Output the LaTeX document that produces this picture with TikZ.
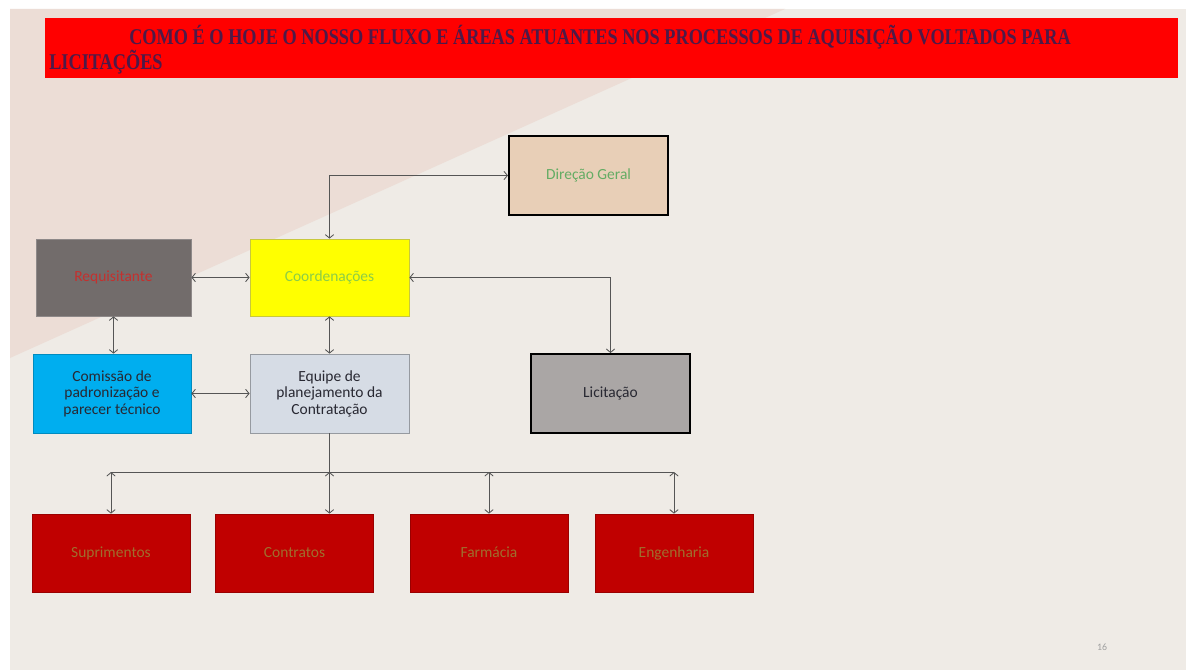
\documentclass[tikz,border=0pt]{standalone}
\usepackage{fontspec}
\setmainfont{Carlito}
\newfontfamily\titlefont[FakeStretch=0.812]{Liberation Serif}
\usetikzlibrary{arrows.meta}
\definecolor{bgbeige}{RGB}{239, 235, 230}
\definecolor{bgpink}{RGB}{236, 221, 214}
\definecolor{barred}{RGB}{255, 0, 0}
\definecolor{titlepurple}{RGB}{78, 26, 72}
\definecolor{dirtan}{RGB}{232, 207, 183}
\definecolor{dirgreen}{RGB}{100, 172, 100}
\definecolor{reqgray}{RGB}{114, 108, 107}
\definecolor{reqred}{RGB}{196, 48, 46}
\definecolor{coordyellow}{RGB}{255, 255, 0}
\definecolor{coordline}{RGB}{200, 200, 60}
\definecolor{coordgreen}{RGB}{140, 205, 70}
\definecolor{comblue}{RGB}{0, 174, 239}
\definecolor{equgray}{RGB}{214, 220, 229}
\definecolor{licgray}{RGB}{170, 166, 165}
\definecolor{darktext}{RGB}{40, 40, 50}
\definecolor{sred}{RGB}{192, 0, 0}
\definecolor{sbrown}{RGB}{160, 110, 45}
\definecolor{linegray}{RGB}{85, 85, 85}
\definecolor{pagegray}{RGB}{160, 160, 160}

\begin{document}
\begin{tikzpicture}[x = 0.025cm, y = -0.025cm,
	box/.style = {rectangle, minimum width = 3.975cm, minimum height = 1.975cm, inner sep = 0pt, align = center, font = \fontsize{11}{11.7}\selectfont, line width = 0.5pt},
	setor/.style = {box, minimum width = 3.95cm, minimum height = 1.95cm, text height = 1.6ex, text depth = 0.3ex, fill = sred, draw = sred!80!black, text = sbrown},
	link/.style = {draw = linegray, line width = 0.6pt, {Straight Barb[length = 2.5pt, width = 6pt]}-{Straight Barb[length = 2.5pt, width = 6pt]}}]
			\useasboundingbox (0,0) rectangle (1186,670);
			\fill[white] (0,0) rectangle (1186,670);
			\fill[bgbeige] (10,9) rectangle (1186,670);
			\fill[bgpink] (10,9) -- (785,9) -- (10,358) -- cycle;
			\fill[barred] (45,18) rectangle (1178,78);
			\node (titulo) at (49,25) [anchor = north west, align = left, inner sep = 0pt, text = titlepurple, font = \titlefont\bfseries\fontsize{16}{12}\selectfont] {\hspace*{2.0cm}COMO É O HOJE O NOSSO FLUXO E ÁREAS ATUANTES NOS PROCESSOS DE AQUISIÇÃO VOLTADOS PARA\\LICITAÇÕES};
			\node (dir) at (588.5,175.5) [box, fill = dirtan, draw = black, line width = 1.4pt, text = dirgreen] {Direção Geral};
			\node (req) at (113.5,277.5) [box, minimum width = 3.875cm, minimum height = 1.925cm, fill = reqgray, draw = reqgray!80, text = reqred] {Requisitante};
			\node (coord) at (329.5,277.5) [box, minimum height = 1.925cm, fill = coordyellow, draw = coordline, text = coordgreen] {Coordenações};
			\node (com) at (112,393.5) [box, minimum width = 3.95cm, fill = comblue, draw = comblue!80!black, text = darktext] {Comissão de\\padronização e\\parecer técnico};
			\node (equ) at (329.5,393.5) [box, fill = equgray, draw = equgray!70!black, text = darktext] {Equipe de\\planejamento da\\Contratação};
			\node (lic) at (610.5,393.5) [box, fill = licgray, draw = black, line width = 1.4pt, text = darktext] {Licitação};
			\node (sup) at (111,553) [setor] {Suprimentos};
			\node (con) at (294.5,553) [setor] {Contratos};
			\node (far) at (489,553) [setor] {Farmácia};
			\node (eng) at (674,553) [setor] {Engenharia};
			\node (pag) at (1102,647) [font = \fontsize{7}{8}\selectfont, text = pagegray] {16};
			\coordinate (bus) at (329.5,472);
			\draw[link] (coord.north) |- (dir.west);
			\draw[link] (req.east) -- (coord.west);
			\draw[link] (coord.east) -| (lic.north);
			\draw[link] (req.south) -- (req.south |- com.north);
			\draw[link] (coord.south) -- (equ.north);
			\draw[link] (com.east) -- (equ.west);
			\draw[linegray, line width = 0.6pt] (equ.south) -- (bus);
			\draw[linegray, line width = 0.6pt] (sup.north |- bus) -- (eng.north |- bus);
			\draw[link] (sup.north |- bus) -- (sup.north);
			\draw[link] (bus) -- (bus |- con.north);
			\draw[link] (far.north |- bus) -- (far.north);
			\draw[link] (eng.north |- bus) -- (eng.north);
\end{tikzpicture}
\end{document}
